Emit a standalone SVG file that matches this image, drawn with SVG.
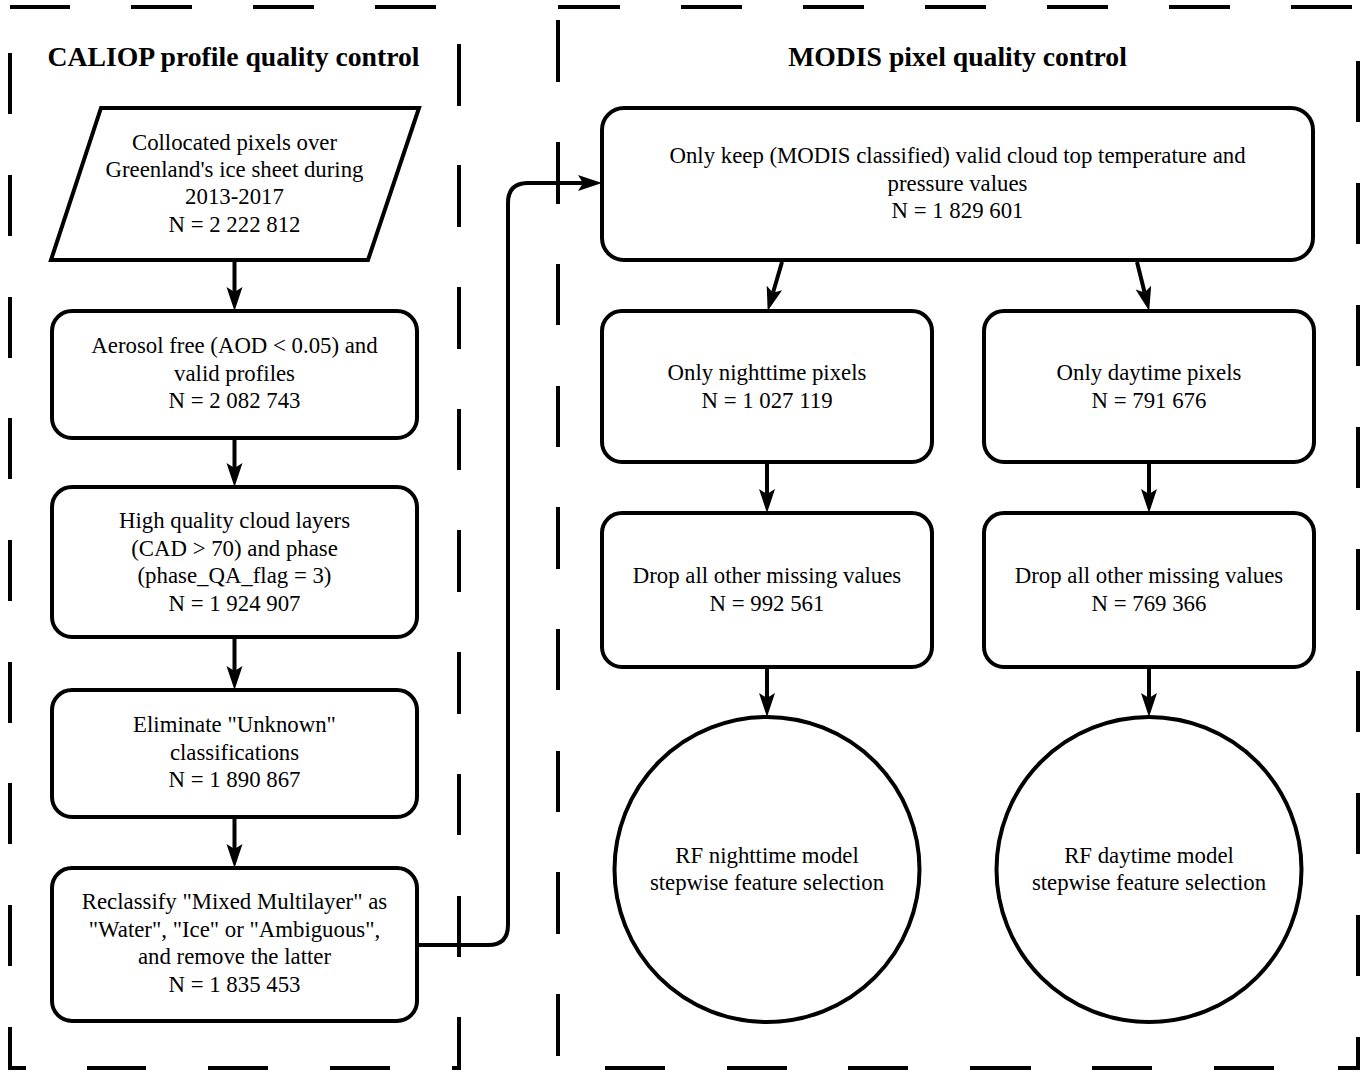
<svg xmlns="http://www.w3.org/2000/svg" width="1371" height="1072" viewBox="0 0 1371 1072">
<style>
.bg{fill:#fff}
.panel{fill:none;stroke:#000;stroke-width:4;stroke-linecap:butt;stroke-linejoin:miter}
.node{fill:#fff;stroke:#000;stroke-width:4}
.edge{fill:none;stroke:#000;stroke-width:4}
.t{font-family:"Liberation Serif","Times New Roman",serif;font-size:22.8px;fill:#000;text-anchor:middle}
.title{font-family:"Liberation Serif","Times New Roman",serif;font-size:27.7px;font-weight:bold;fill:#000;text-anchor:middle}
</style>
<defs>
<marker id="arr" markerUnits="userSpaceOnUse" markerWidth="24" markerHeight="16" refX="5" refY="8" orient="auto" overflow="visible">
<path d="M0,0 L24,8 L0,16 L5,8 Z" fill="#000"/>
</marker>
</defs>
<rect class="bg" x="0" y="0" width="1371" height="1072"/>

<g id="panel-caliop">
<path class="panel" d="M10,7H70 M131,7H192 M253,7H314 M375,7H436
M459,44V106 M459,165V227 M459,287V349 M459,409V470 M459,530V592 M459,652V714 M459,774V835 M459,896V957 M459,1017V1068H452
M390,1068H330 M268,1068H208 M146,1068H87 M26,1068H10V1027
M10,905V966 M10,783V844 M10,662V723 M10,540V601 M10,418V479 M10,297V358 M10,175V236 M10,53V114"/>
<text class="title" x="233.5" y="66">CALIOP profile quality control</text>
</g>

<g id="panel-modis">
<path class="panel" d="M558,7H620 M681,7H742 M803,7H864 M925,7H986 M1047,7H1108 M1169,7H1230 M1291,7H1352
M1358,61V122 M1358,183V244 M1358,305V366 M1358,427V488 M1358,549V610 M1358,671V732 M1358,793V854 M1358,915V976 M1358,1037V1068H1338
M1274,1068H1214 M1152,1068H1092 M1031,1068H970 M908,1068H848 M787,1068H727 M665,1068H605
M558,20V82 M558,142V204 M558,264V325 M558,386V447 M558,507V569 M558,629V690 M558,751V812 M558,872V934 M558,994V1056"/>
<text class="title" x="957.5" y="66">MODIS pixel quality control</text>
</g>

<g id="connectors">
<path class="edge" d="M234.5,262V292" marker-end="url(#arr)"/>
<path class="edge" d="M234.5,440V468" marker-end="url(#arr)"/>
<path class="edge" d="M234.5,639V671" marker-end="url(#arr)"/>
<path class="edge" d="M234.5,819V849" marker-end="url(#arr)"/>
<path class="edge" d="M417,945H488Q508,945 508,925V203Q508,183 528,183H583" marker-end="url(#arr)"/>
<path class="edge" d="M782,262L773,292.7" marker-end="url(#arr)"/>
<path class="edge" d="M1137,262L1144.6,292.5" marker-end="url(#arr)"/>
<path class="edge" d="M767,464V494" marker-end="url(#arr)"/>
<path class="edge" d="M1149,464V494" marker-end="url(#arr)"/>
<path class="edge" d="M767,669V698" marker-end="url(#arr)"/>
<path class="edge" d="M1149,669V698" marker-end="url(#arr)"/>
</g>

<g id="n-collocated">
<polygon class="node" points="101,108 419,108 368,260 51,260"/>
<text class="t" x="234.5" y="150">Collocated pixels over</text>
<text class="t" x="234.5" y="177">Greenland's ice sheet during</text>
<text class="t" x="234.5" y="204">2013-2017</text>
<text class="t" x="234.5" y="232">N = 2 222 812</text>
</g>

<g id="n-aerosol">
<rect class="node" x="52" y="311" width="365" height="127" rx="20"/>
<text class="t" x="234.5" y="353">Aerosol free (AOD &lt; 0.05) and</text>
<text class="t" x="234.5" y="380.5">valid profiles</text>
<text class="t" x="234.5" y="408">N = 2 082 743</text>
</g>

<g id="n-highquality">
<rect class="node" x="52" y="487" width="365" height="150" rx="20"/>
<text class="t" x="234.5" y="528">High quality cloud layers</text>
<text class="t" x="234.5" y="556">(CAD &gt; 70) and phase</text>
<text class="t" x="234.5" y="583">(phase_QA_flag = 3)</text>
<text class="t" x="234.5" y="611">N = 1 924 907</text>
</g>

<g id="n-unknown">
<rect class="node" x="52" y="690" width="365" height="127" rx="20"/>
<text class="t" x="234.5" y="732">Eliminate "Unknown"</text>
<text class="t" x="234.5" y="759.5">classifications</text>
<text class="t" x="234.5" y="787">N = 1 890 867</text>
</g>

<g id="n-reclassify">
<rect class="node" x="52" y="868" width="365" height="153" rx="20"/>
<text class="t" x="234.5" y="909">Reclassify "Mixed Multilayer" as</text>
<text class="t" x="234.5" y="937">"Water", "Ice" or "Ambiguous",</text>
<text class="t" x="234.5" y="964">and remove the latter</text>
<text class="t" x="234.5" y="992">N = 1 835 453</text>
</g>

<g id="n-modis-valid">
<rect class="node" x="602" y="108" width="711" height="152" rx="22"/>
<text class="t" x="957.5" y="163">Only keep (MODIS classified) valid cloud top temperature and</text>
<text class="t" x="957.5" y="191">pressure values</text>
<text class="t" x="957.5" y="218">N = 1 829 601</text>
</g>

<g id="n-night">
<rect class="node" x="602" y="311" width="330" height="151" rx="20"/>
<text class="t" x="767" y="380">Only nighttime pixels</text>
<text class="t" x="767" y="408">N = 1 027 119</text>
</g>

<g id="n-day">
<rect class="node" x="984" y="311" width="330" height="151" rx="20"/>
<text class="t" x="1149" y="380">Only daytime pixels</text>
<text class="t" x="1149" y="408">N = 791 676</text>
</g>

<g id="n-night-drop">
<rect class="node" x="602" y="513" width="330" height="154" rx="20"/>
<text class="t" x="767" y="583">Drop all other missing values</text>
<text class="t" x="767" y="611">N = 992 561</text>
</g>

<g id="n-day-drop">
<rect class="node" x="984" y="513" width="330" height="154" rx="20"/>
<text class="t" x="1149" y="583">Drop all other missing values</text>
<text class="t" x="1149" y="611">N = 769 366</text>
</g>

<g id="n-rf-night">
<circle class="node" cx="767" cy="869.5" r="152.5"/>
<text class="t" x="767" y="863">RF nighttime model</text>
<text class="t" x="767" y="890">stepwise feature selection</text>
</g>

<g id="n-rf-day">
<circle class="node" cx="1149" cy="869.5" r="152.5"/>
<text class="t" x="1149" y="863">RF daytime model</text>
<text class="t" x="1149" y="890">stepwise feature selection</text>
</g>
</svg>
